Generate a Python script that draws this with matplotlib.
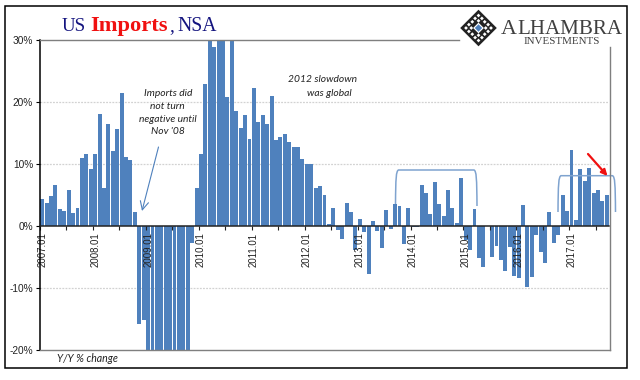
import numpy as np
import matplotlib
matplotlib.use("Agg")
import matplotlib.pyplot as plt
from matplotlib.patches import Polygon, Rectangle, PathPatch
from matplotlib.path import Path

# monthly y/y % change, 2007.01 - 2017.09 (clipped values are estimates)
y2007 = [4.35, 3.65, 4.7, 6.6, 2.6, 2.4, 5.65, 1.95, 2.75, 10.9, 11.6, 9.15]
y2008 = [11.6, 18.0, 6.1, 16.3, 12.05, 15.55, 21.35, 11.1, 10.6, 2.1, -15.9, -15.2]
y2009 = [-22.0, -26.0, -29.0, -27.0, -28.0, -27.0, -26.0, -25.0, -24.0, -21.0, -2.8, 6.1]
y2010 = [11.6, 22.8, 31.0, 28.8, 33.0, 32.0, 20.7, 31.0, 18.5, 15.8, 17.9, 14.0]
y2011 = [22.1, 16.7, 17.9, 16.3, 20.9, 13.8, 14.2, 14.8, 13.4, 12.6, 12.6, 10.8]
y2012 = [9.9, 10.0, 6.0, 6.3, 5.0, 0.2, 2.9, -0.7, -2.1, 3.6, 2.1, -3.95]
y2013 = [1.0, -1.0, -7.8, 0.7, -0.9, -3.7, 2.45, -0.6, 3.4, 3.2, -3.0, 2.9]
y2014 = [-0.3, -0.2, 6.5, 5.2, 1.85, 7.0, 3.4, 1.6, 5.7, 2.8, 0.35, 7.6]
y2015 = [-2.4, -4.0, 2.6, -5.2, -6.7, -0.1, -5.1, -3.3, -5.6, -7.3, -3.5, -8.1]
y2016 = [-8.5, 3.25, -9.9, -8.3, -1.5, -4.3, -6.0, 2.1, -2.8, -1.5, 5.0, 2.3]
y2017 = [12.1, 0.9, 9.05, 7.1, 9.3, 5.2, 5.7, 4.0, 4.9]
values = y2007 + y2008 + y2009 + y2010 + y2011 + y2012 + y2013 + y2014 + y2015 + y2016 + y2017

year_labels = ["2007.01", "2008.01", "2009.01", "2010.01", "2011.01", "2012.01",
               "2013.01", "2014.01", "2015.01", "2016.01", "2017.01"]
y_ticks = [-20, -10, 0, 10, 20, 30]
y_labels = ["-20%", "-10%", "0%", "10%", "20%", "30%"]

W, H = 640, 380
BLUE = "#4f81bd"
GRAY = "#7f7f7f"

fig = plt.figure(figsize=(6.4, 3.8), dpi=100, facecolor="white")
ax = fig.add_axes([40 / W, 1 - 349.5 / H, 569 / W, 310 / H])

x = np.arange(len(values))
ax.bar(x, values, width=0.89, color=BLUE, linewidth=0, zorder=1)
ax.set_xlim(-0.5, len(values) - 0.5)
ax.set_ylim(-20, 30)

for g in [-10, 10, 20]:
    ax.axhline(g, color="#d2d2d2", linewidth=0.9, linestyle=(0, (1.5, 1)), zorder=0.5)

# spines
ax.spines["bottom"].set_position(("data", 0))
ax.spines["bottom"].set_color("#222222")
ax.spines["bottom"].set_linewidth(1.1)
ax.spines["left"].set_color("black")
ax.spines["left"].set_linewidth(1.1)
ax.spines["top"].set_visible(False)
ax.spines["right"].set_visible(False)

# ticks every 6 months on the zero line, labels on the january bars
ax.set_xticks(np.arange(-0.5, len(values), 6))
ax.set_xticklabels([])
ax.set_xticks(np.arange(0, len(values), 12), minor=True)
ax.set_xticklabels(year_labels, minor=True, rotation=90, fontsize=6.9,
                   family="Liberation Sans", color="#222222")
ax.tick_params(axis="x", which="major", length=2.8, width=0.8, color="#222222")
ax.tick_params(axis="x", which="minor", length=0, pad=5)
ax.set_yticks(y_ticks)
ax.set_yticklabels(y_labels, fontsize=7.3, family="Liberation Sans", color="#222222")
ax.tick_params(axis="y", length=3, width=0.8, pad=2)

# overlay in pixel coordinates for the frame, notes and logo
ov = fig.add_axes([0, 0, 1, 1], facecolor="none")
ov.set_xlim(0, W)
ov.set_ylim(H, 0)
ov.axis("off")

ov.add_patch(Rectangle((4.5, 6), 622.5, 362, fill=False, edgecolor="black", linewidth=1.1))
ov.plot([40, 459], [39.5, 39.5], color=GRAY, linewidth=1.0)
ov.plot([40, 610], [349.5, 349.5], color=GRAY, linewidth=1.0)
ov.plot([610, 610], [47, 349.5], color=GRAY, linewidth=1.0)

# title
serif = "Liberation Serif"
ov.text(61.5, 31, "US", color="#14147f", fontsize=13.6, family=serif, va="baseline")
ov.text(90, 31, "Imports", color="#f01010", fontsize=16.2, family=serif, weight="bold", va="baseline")
ov.text(169, 31, ",", color="#14147f", fontsize=14, family=serif, va="baseline")
ov.text(177.5, 31, "NSA", color="#14147f", fontsize=14.2, family=serif, va="baseline")

# notes
note = dict(family="Lato", style="italic", fontsize=7.4, color="#222222", ha="center", va="center")
for txt, px, py in [("Imports did", 168, 93), ("not turn", 167.5, 106.5),
                    ("negative until", 168, 119.5), ("Nov '08", 168, 132),
                    ("2012 slowdown", 323, 80), ("was global", 329, 93.5)]:
    ov.text(px, py, txt, **note)
ov.text(57, 358, "Y/Y % change", family="Lato", style="italic", fontsize=7.6,
        color="#222222", va="center")

# arrows
ov.annotate("", xy=(142, 211), xytext=(158.5, 147),
            arrowprops=dict(arrowstyle="->,head_length=0.6,head_width=0.3", color=BLUE,
                            linewidth=0.8, shrinkA=0, shrinkB=0))
ov.annotate("", xy=(607.5, 176), xytext=(588, 154),
            arrowprops=dict(arrowstyle="-|>,head_length=0.35,head_width=0.17", color="#f01010",
                            linewidth=1.6, shrinkA=0, shrinkB=0))


def bracket(x0, x1, top, bot0, bot1):
    verts = [(x0, bot0), (x0 + 0.2, top + 8), (x0 + 0.6, top + 1), (x0 + 3, top),
             (x1 - 3, top),
             (x1 - 0.6, top + 1), (x1 - 0.2, top + 8), (x1, bot1)]
    codes = [Path.MOVETO, Path.CURVE4, Path.CURVE4, Path.CURVE4, Path.LINETO,
             Path.CURVE4, Path.CURVE4, Path.CURVE4]
    ov.add_patch(PathPatch(Path(verts, codes), fill=False, edgecolor="#7fa3cf", linewidth=1.1))


bracket(395.5, 477, 170, 204, 206)
bracket(558, 615.5, 175.7, 212, 212)


# logo
def diamond(cx, cy, r, **kw):
    ov.add_patch(Polygon([(cx - r, cy), (cx, cy - r), (cx + r, cy), (cx, cy + r)], closed=True, **kw))


lx, ly = 478.5, 28
diamond(lx, ly, 18.3, facecolor="#222222", edgecolor="none")
for dx, dy in [(-7.2, 0), (7.2, 0), (0, -7.2), (0, 7.2), (-12.5, 0), (12.5, 0), (0, -12.5), (0, 12.5),
               (-6.2, -6.2), (6.2, -6.2), (-6.2, 6.2), (6.2, 6.2),
               (-3.4, -9.6), (3.4, -9.6), (-3.4, 9.6), (3.4, 9.6),
               (-9.6, -3.4), (9.6, -3.4), (-9.6, 3.4), (9.6, 3.4)]:
    diamond(lx + dx, ly + dy, 1.9, facecolor="white", edgecolor="none")
diamond(lx, ly, 5.4, facecolor="white", edgecolor="none")
diamond(lx, ly, 3.7, facecolor=BLUE, edgecolor="none")

ov.text(500.5, 33.5, "A", family=serif, fontsize=15.8, color="#404040", va="baseline")
ov.text(517.5, 33.5, "LHAMBRA", family=serif, fontsize=15.1, color="#404040", va="baseline")
ov.text(561.5, 44.5, "INVESTMENTS", family=serif, fontsize=7.9, color="#404040",
        va="baseline", ha="center")

fig.savefig("out.png", dpi=100)
